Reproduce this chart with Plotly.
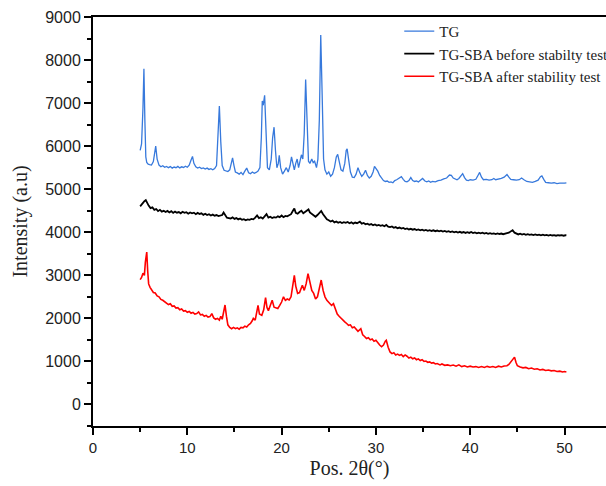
import plotly.graph_objects as go

# ---- data ----
tg_x = [5.0,5.15,5.3,5.4,5.5,5.6,5.7,5.85,6.0,6.2,6.4,6.55,6.65,6.8,7.0,7.2,7.4,7.6,7.8,8.0,8.2,8.4,8.6,8.8,9.0,9.2,9.4,9.6,9.8,10.0,
        10.2,10.4,10.55,10.7,10.9,11.1,11.3,11.5,11.7,11.9,12.1,12.3,12.5,12.7,12.9,13.1,13.25,13.4,13.55,13.7,13.9,14.1,14.3,14.5,14.65,14.8,14.95,15.1,15.3,15.5,
        15.7,15.9,16.1,16.3,16.5,16.7,16.9,17.1,17.3,17.5,17.7,17.85,17.95,18.05,18.2,18.35,18.5,18.7,18.9,19.05,19.2,19.35,19.5,19.65,19.75,19.9,20.1,20.3,20.5,20.7,
        20.9,21.05,21.2,21.35,21.5,21.65,21.8,21.95,22.1,22.25,22.4,22.55,22.7,22.85,23.0,23.2,23.35,23.5,23.7,23.85,24.0,24.15,24.3,24.45,24.6,24.8,25.0,25.2,25.4,25.6,
        25.8,25.95,26.1,26.3,26.5,26.7,26.85,26.95,27.1,27.3,27.5,27.7,27.9,28.1,28.3,28.5,28.7,28.9,29.1,29.3,29.5,29.7,29.85,30.0,30.2,30.4,30.6,30.8,31.0,31.2,
        31.4,31.6,31.8,32.0,32.2,32.5,32.7,32.9,33.1,33.3,33.5,33.7,33.9,34.1,34.3,34.5,34.7,34.95,35.2,35.4,35.6,35.8,36.0,36.3,36.6,36.9,37.2,37.5,37.8,38.0,
        38.2,38.4,38.6,38.8,39.0,39.2,39.4,39.6,39.8,40.0,40.3,40.6,40.85,41.0,41.2,41.4,41.7,42.0,42.3,42.5,42.7,43.0,43.3,43.6,43.9,44.1,44.3,44.6,44.9,45.2,
        45.45,45.7,46.0,46.3,46.6,46.9,47.2,47.45,47.6,47.8,48.0,48.3,48.6,48.9,49.2,49.5,49.8,50.0,50.2]
tg_y = [5900,6050,6900,7800,6600,5750,5620,5580,5570,5560,5640,5950,6000,5700,5560,5520,5545,5510,5530,5500,5525,5490,5515,5500,5530,5495,5520,5505,5535,5510,
        5560,5680,5760,5600,5520,5490,5510,5480,5495,5470,5490,5460,5475,5450,5480,5550,6200,6930,6100,5550,5440,5430,5410,5450,5600,5730,5550,5400,5380,5350,
        5390,5340,5420,5490,5380,5360,5400,5370,5390,5420,5500,6200,7050,6950,7180,6300,5500,5450,5700,6200,6440,5900,5500,5600,5790,5500,5350,5420,5500,5400,
        5550,5750,5600,5450,5600,5700,5500,5650,5800,5700,6300,7550,6400,5650,5600,5700,5620,5650,5500,5700,6600,8580,7200,5700,5450,5350,5400,5300,5350,5500,
        5750,5810,5650,5450,5420,5600,5900,5940,5700,5400,5280,5270,5350,5500,5380,5300,5350,5440,5320,5260,5300,5400,5530,5480,5420,5320,5250,5200,5180,5190,
        5160,5170,5150,5200,5220,5270,5290,5230,5180,5170,5200,5270,5200,5180,5190,5170,5200,5250,5190,5170,5190,5160,5180,5170,5200,5210,5240,5260,5330,5320,
        5260,5230,5220,5250,5300,5360,5270,5210,5200,5220,5210,5230,5330,5390,5280,5220,5230,5210,5220,5250,5220,5230,5250,5280,5340,5280,5230,5220,5210,5220,
        5260,5220,5180,5170,5160,5180,5210,5290,5310,5230,5160,5150,5140,5150,5130,5140,5130,5140,5145]

before_x = [5.0,5.15,5.3,5.45,5.6,5.75,5.9,6.1,6.3,6.5,6.7,6.9,7.1,7.3,7.5,7.7,7.9,8.1,8.3,8.5,8.7,8.9,9.1,9.3,9.5,9.7,9.9,10.1,10.3,10.5,
            10.7,10.9,11.1,11.3,11.5,11.7,11.9,12.1,12.3,12.5,12.7,12.9,13.1,13.3,13.5,13.7,13.85,14.0,14.2,14.4,14.6,14.8,15.0,15.2,15.4,15.6,15.8,16.0,16.2,16.4,
            16.6,16.8,17.0,17.2,17.4,17.6,17.8,18.0,18.2,18.4,18.6,18.8,19.0,19.2,19.4,19.6,19.8,20.0,20.2,20.4,20.6,20.8,21.0,21.2,21.35,21.5,21.7,21.9,22.1,22.3,
            22.5,22.7,22.85,23.0,23.2,23.4,23.6,23.8,24.0,24.2,24.4,24.6,24.8,25.0,25.2,25.4,25.6,25.8,26.0,26.2,26.4,26.6,26.8,27.0,27.2,27.4,27.6,27.8,28.0,28.3,
            28.5,28.7,28.9,29.1,29.3,29.5,29.7,29.9,30.1,30.3,30.5,30.7,30.9,31.1,31.3,31.5,31.7,31.9,32.1,32.3,32.5,32.7,32.9,33.1,33.3,33.5,33.7,33.9,34.1,34.3,
            34.5,34.7,34.9,35.1,35.3,35.5,35.7,35.9,36.1,36.3,36.5,36.7,36.9,37.1,37.3,37.5,37.7,37.9,38.1,38.3,38.5,38.7,38.9,39.1,39.3,39.5,39.7,39.9,40.1,40.3,
            40.5,40.7,40.9,41.1,41.3,41.5,41.7,41.9,42.1,42.3,42.5,42.7,42.9,43.1,43.3,43.5,43.7,43.9,44.1,44.3,44.5,44.7,44.9,45.1,45.3,45.5,45.7,45.9,46.1,46.3,
            46.5,46.7,46.9,47.1,47.3,47.5,47.7,47.9,48.1,48.3,48.5,48.7,48.9,49.1,49.3,49.5,49.7,49.9,50.1,50.2]
before_y = [4600,4650,4690,4720,4745,4660,4620,4560,4580,4520,4540,4490,4520,4480,4500,4470,4495,4460,4490,4450,4480,4455,4470,4440,4475,4450,4465,4430,4460,4440,
            4455,4420,4450,4425,4440,4405,4430,4400,4420,4390,4410,4385,4400,4375,4390,4400,4460,4420,4340,4330,4320,4345,4310,4330,4300,4320,4290,4305,4280,4300,
            4290,4310,4300,4340,4390,4330,4350,4320,4380,4420,4340,4360,4330,4350,4340,4370,4350,4390,4350,4380,4370,4400,4420,4500,4550,4450,4430,4470,4500,4440,
            4470,4510,4530,4460,4420,4380,4360,4400,4460,4495,4420,4350,4300,4280,4250,4270,4230,4250,4220,4240,4215,4235,4220,4240,4210,4230,4200,4225,4210,4245,
            4200,4215,4185,4200,4175,4190,4165,4180,4155,4170,4150,4165,4140,4170,4130,4120,4135,4105,4120,4095,4110,4085,4100,4075,4090,4065,4080,4060,4075,4050,
            4065,4045,4060,4040,4055,4035,4050,4030,4045,4025,4040,4020,4035,4015,4030,4010,4025,4005,4020,4000,4015,3995,4010,3990,4005,3985,4000,3985,4005,3980,
            3995,3975,3990,3975,3990,3970,3985,3965,3980,3965,3975,3960,3975,3960,3970,3955,3975,3980,3990,4020,4050,3990,3970,3950,3965,3945,3960,3940,3955,3940,
            3950,3935,3950,3935,3945,3930,3945,3930,3940,3925,3940,3925,3935,3920,3935,3925,3935,3920,3930,3925]

after_x = [5.0,5.15,5.3,5.45,5.55,5.7,5.8,5.9,6.05,6.2,6.4,6.6,6.8,7.0,7.2,7.4,7.6,7.8,8.0,8.2,8.4,8.6,8.8,9.0,9.2,9.4,9.6,9.8,10.0,10.2,
           10.4,10.6,10.8,11.0,11.2,11.4,11.6,11.8,12.0,12.2,12.4,12.6,12.8,13.0,13.2,13.4,13.55,13.7,13.85,14.0,14.15,14.3,14.5,14.7,14.9,15.1,15.3,15.5,15.7,15.9,
           16.1,16.3,16.5,16.7,16.9,17.0,17.2,17.4,17.5,17.65,17.9,18.1,18.3,18.45,18.6,18.8,19.0,19.2,19.4,19.6,19.8,20.0,20.2,20.4,20.6,20.8,21.0,21.2,21.35,21.5,
           21.7,21.9,22.1,22.2,22.4,22.6,22.8,23.0,23.2,23.4,23.6,23.8,24.0,24.2,24.4,24.6,24.8,25.0,25.3,25.5,25.7,25.9,26.1,26.3,26.5,26.7,26.9,27.1,27.3,27.5,
           27.7,27.9,28.1,28.4,28.6,28.8,29.0,29.2,29.4,29.6,29.8,30.0,30.2,30.4,30.6,30.8,31.0,31.1,31.3,31.5,31.7,31.9,32.1,32.3,32.5,32.7,32.9,33.1,33.3,33.5,
           33.7,33.9,34.1,34.3,34.5,34.7,34.9,35.1,35.3,35.5,35.7,35.9,36.1,36.3,36.5,36.8,37.0,37.3,37.6,37.9,38.2,38.5,38.8,39.1,39.4,39.7,40.0,40.3,40.6,40.9,
           41.2,41.5,41.8,42.1,42.4,42.7,43.0,43.3,43.6,43.9,44.1,44.3,44.5,44.7,44.85,45.0,45.3,45.6,45.9,46.2,46.5,46.8,47.1,47.4,47.7,48.0,48.3,48.6,48.9,49.2,
           49.5,49.8,50.0,50.2]
after_y = [2900,2950,3050,3000,3300,3540,3100,2800,2720,2680,2600,2590,2520,2500,2440,2420,2380,2360,2320,2340,2280,2290,2240,2250,2200,2220,2170,2180,2140,2160,
           2120,2140,2100,2110,2150,2080,2090,2050,2070,2030,2040,2110,2010,1980,2000,1960,2050,1980,2150,2310,2050,1850,1790,1760,1790,1760,1780,1750,1790,1780,
           1820,1800,1850,1880,1950,2000,1960,2150,2300,2100,2070,2200,2480,2250,2180,2300,2420,2260,2240,2230,2300,2380,2500,2420,2450,2430,2500,2750,3000,2750,
           2580,2600,2720,2770,2650,2800,3040,2850,2650,2580,2450,2500,2700,2890,2650,2500,2420,2380,2300,2340,2200,2100,2050,2000,1950,1920,1880,1840,1850,1780,
           1800,1760,1700,1760,1620,1580,1530,1550,1500,1520,1470,1490,1420,1380,1340,1380,1470,1490,1330,1220,1180,1200,1150,1170,1140,1160,1110,1150,1120,1080,
           1100,1060,1080,1040,1060,1020,1040,1000,1010,980,990,960,970,940,950,920,940,910,920,900,915,890,920,880,900,870,890,870,880,860,
           880,860,885,865,880,860,890,870,895,900,930,980,1050,1100,980,900,870,850,860,830,845,820,830,800,815,790,800,780,790,765,
           775,755,765,755]

series_names = ["TG", "TG-SBA before stabilty test", "TG-SBA after stability test"]
series_colors = ["#3779dc", "#000000", "#ff0000"]
x_ticks = [0, 10, 20, 30, 40, 50]
y_ticks = [0, 1000, 2000, 3000, 4000, 5000, 6000, 7000, 8000, 9000]

fig = go.Figure()
for xs, ys, name, col, w in [(tg_x, tg_y, series_names[0], series_colors[0], 1.3),
                             (before_x, before_y, series_names[1], series_colors[1], 1.8),
                             (after_x, after_y, series_names[2], series_colors[2], 1.6)]:
    fig.add_trace(go.Scatter(x=xs, y=ys, mode="lines", name=name,
                             line=dict(color=col, width=w)))

fig.update_layout(
    width=606, height=486,
    margin=dict(l=93, r=0, t=17, b=60, autoexpand=False),
    paper_bgcolor="white", plot_bgcolor="white",
    showlegend=True,
    legend=dict(x=0.597, y=1.005, xanchor="left", yanchor="top",
                font=dict(family="Liberation Serif", size=15, color="#222"),
                bgcolor="rgba(0,0,0,0)", tracegroupgap=0, itemwidth=30),
)
fig.update_xaxes(range=[0, 54.4], tickvals=x_ticks, showgrid=False, zeroline=False,
                 showline=True, linecolor="black", linewidth=2, mirror=True,
                 ticks="outside", ticklen=7, tickwidth=1.5, tickcolor="black",
                 minor=dict(dtick=5, tick0=0, ticks="outside", ticklen=4, tickwidth=1.5, tickcolor="black"),
                 tickfont=dict(family="Liberation Sans", size=15, color="#222"),
                 title=dict(text="Pos. 2θ(°)", font=dict(family="Liberation Serif", size=20, color="#222"), standoff=6))
fig.update_yaxes(range=[-500, 9000], tickvals=y_ticks, showgrid=False, zeroline=False,
                 showline=True, linecolor="black", linewidth=2,
                 ticks="outside", ticklen=7, tickwidth=1.5, tickcolor="black",
                 minor=dict(dtick=500, tick0=0, ticks="outside", ticklen=4, tickwidth=1.5, tickcolor="black"),
                 tickfont=dict(family="Liberation Sans", size=16, color="#222"),
                 title=dict(text="Intensity (a.u)", font=dict(family="Liberation Serif", size=20, color="#222"), standoff=12))

fig.write_html("out.html")
